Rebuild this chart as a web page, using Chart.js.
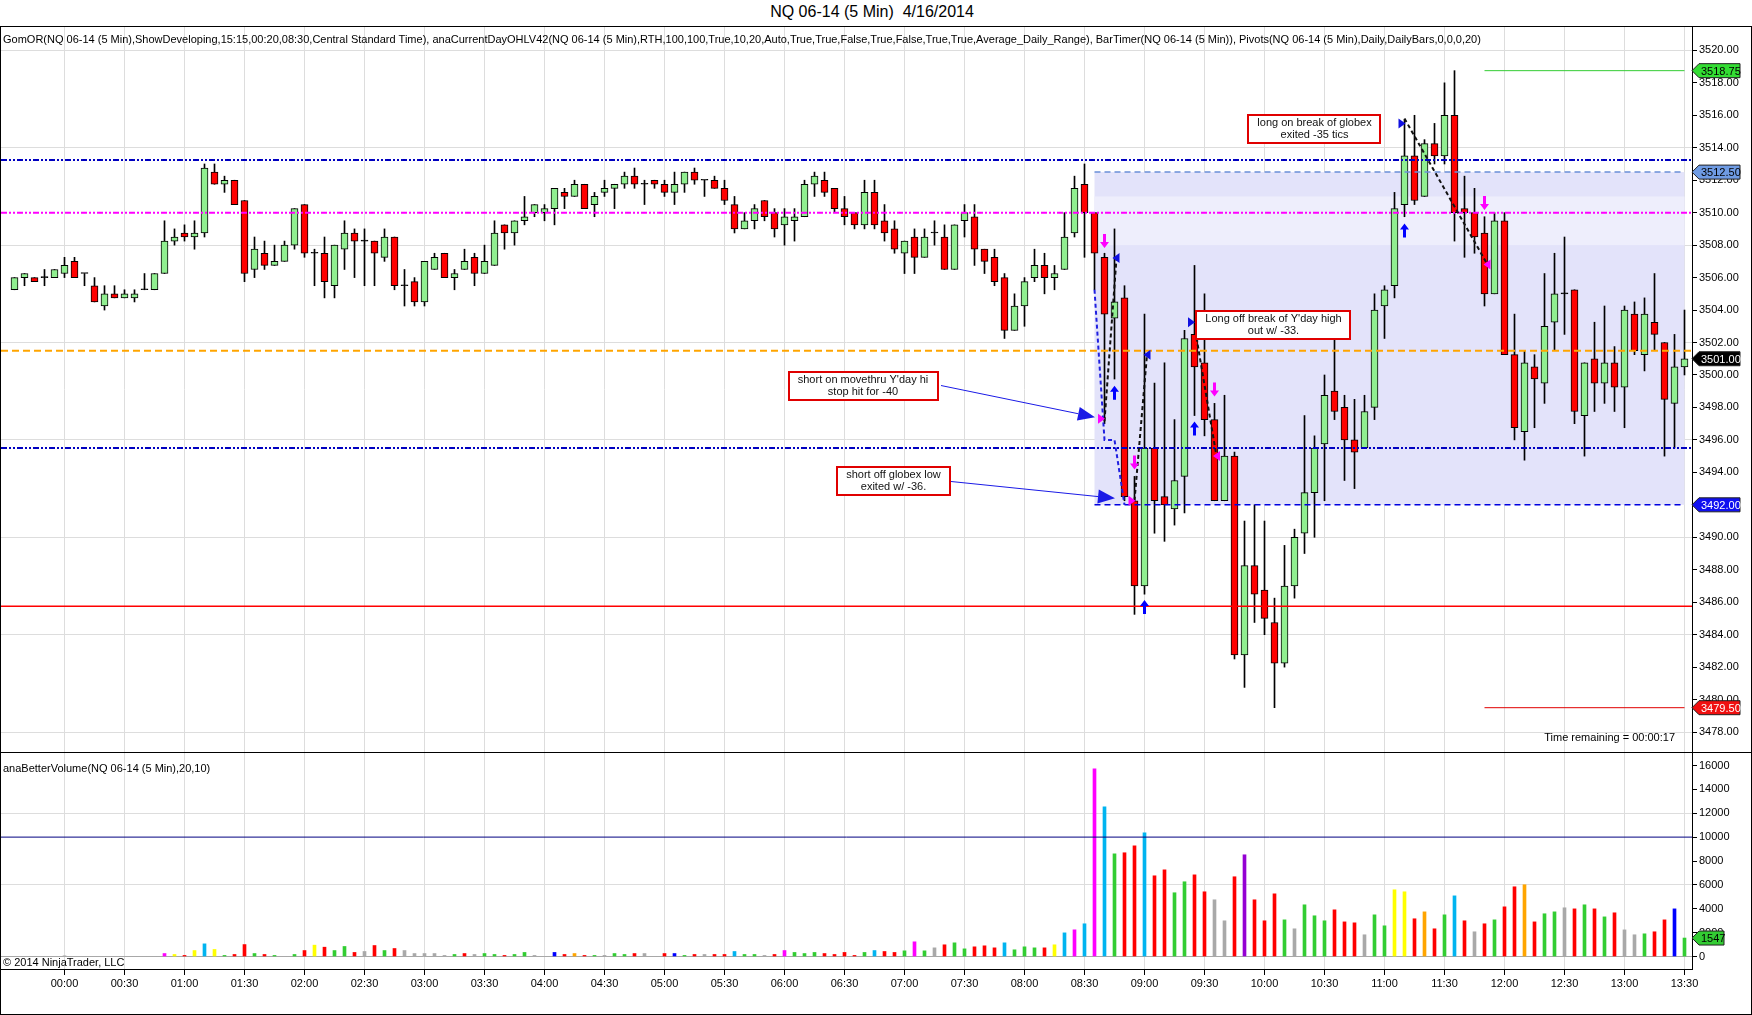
<!DOCTYPE html>
<html>
<head>
<meta charset="utf-8">
<title>NQ 06-14 (5 Min) 4/16/2014</title>
<script src="https://cdn.jsdelivr.net/npm/chart.js@4.4.1/dist/chart.umd.min.js"></script>
<style>
  body { margin: 0; background: #fff; }
  #page { position: relative; width: 1752px; height: 1015px; overflow: hidden; font-family: Arial, "Liberation Sans", sans-serif; }
  #title { position: absolute; top: 3px; left: 0; width: 1744px; text-align: center; font-size: 16px; white-space: pre; }
  #frame { position: absolute; left: 0; top: 26px; width: 1752px; height: 989px; border: 1px solid #000; box-sizing: border-box; }
  #sep { position: absolute; left: 0; top: 752px; width: 1752px; height: 1px; background: #000; }
  #price { position: absolute; left: 1px; top: 27px; }
  #volume { position: absolute; left: 1px; top: 753px; }
</style>
</head>
<body>
<div id="page">
  <div id="title">NQ 06-14 (5 Min)  4/16/2014</div>
  <div id="frame"></div>
  <canvas id="price" width="1750" height="725"></canvas>
  <div id="sep"></div>
  <canvas id="volume" width="1750" height="261"></canvas>
</div>
<script>
// 5 minute bars, first bar 23:35 (prev. day), last bar 13:30
const open = [
  3505.25, 3506.0, 3506.0, 3506.0, 3506.0,
  3506.25, 3507.0, 3506.25, 3505.5, 3504.25, 3505.0, 3504.75, 3504.75, 3505.25, 3505.25, 3506.25, 3508.25,
  3508.75, 3508.5, 3508.75, 3512.5, 3511.75, 3512.0, 3510.75, 3506.5, 3507.5, 3506.75, 3507.0, 3508.0,
  3510.5, 3507.5, 3507.5, 3505.5, 3507.75, 3508.75, 3508.25, 3508.25, 3507.25, 3508.5, 3505.5, 3505.75,
  3504.5, 3506.5, 3507.5, 3506.0, 3506.5, 3507.25, 3506.25, 3506.75, 3509.25, 3508.75, 3509.5, 3510.0,
  3510.0, 3510.25, 3511.25, 3511.0, 3511.75, 3510.5, 3511.25, 3511.5, 3511.75, 3512.25, 3511.75, 3512.0,
  3511.75, 3511.25, 3511.75, 3512.5, 3512.0, 3512.0, 3511.5, 3510.5, 3509.0, 3509.5, 3510.75, 3510.0,
  3509.25, 3509.5, 3509.75, 3511.75, 3512.0, 3511.5, 3510.25, 3510.0, 3509.25, 3511.25, 3509.5, 3509.0,
  3507.5, 3508.5, 3507.25, 3508.75, 3508.5, 3506.5, 3509.5, 3509.75, 3507.75, 3507.25, 3506.0, 3502.75,
  3504.25, 3506.0, 3506.75, 3506.0, 3506.5, 3508.75, 3511.75, 3510.0, 3507.25, 3503.5, 3504.75, 3492.25,
  3487.0, 3495.5, 3492.5, 3491.75, 3493.75, 3502.5, 3500.75, 3497.25, 3492.25, 3495.0, 3482.75, 3488.25,
  3486.75, 3484.75, 3482.25, 3487.0, 3490.25, 3492.75, 3495.75, 3499.0, 3498.0, 3496.0, 3495.5, 3498.0,
  3504.25, 3505.5, 3510.5, 3513.5, 3511.0, 3514.25, 3513.5, 3516.0, 3510.25, 3510.0, 3508.75, 3505.0,
  3509.5, 3501.25, 3496.5, 3500.5, 3499.5, 3503.25, 3505.0, 3505.25, 3497.5, 3501.0, 3499.5, 3500.75,
  3499.25, 3503.75, 3501.25, 3503.25, 3502.0, 3498.25, 3500.5
];
const high = [
  3506.0, 3506.25, 3506.0, 3506.5, 3506.5,
  3507.25, 3507.25, 3506.25, 3506.0, 3505.5, 3505.5, 3505.25, 3505.25, 3506.25, 3506.25, 3509.5, 3509.0,
  3509.25, 3509.5, 3513.0, 3513.0, 3512.25, 3512.0, 3510.75, 3508.5, 3508.25, 3508.0, 3508.25, 3510.25,
  3510.5, 3507.75, 3508.5, 3508.0, 3509.5, 3509.0, 3509.0, 3508.25, 3509.0, 3508.5, 3506.5, 3506.0,
  3507.0, 3507.5, 3507.5, 3506.5, 3507.75, 3507.5, 3508.0, 3509.5, 3509.25, 3509.5, 3511.0, 3510.5,
  3510.5, 3511.5, 3511.5, 3512.0, 3511.75, 3511.25, 3512.0, 3511.75, 3512.5, 3512.75, 3512.0, 3512.0,
  3512.0, 3512.5, 3512.5, 3512.75, 3512.0, 3512.25, 3512.0, 3511.0, 3510.0, 3510.5, 3510.75, 3510.25,
  3510.25, 3510.25, 3512.0, 3512.5, 3512.5, 3511.5, 3511.0, 3510.0, 3512.0, 3512.0, 3510.5, 3509.5,
  3508.25, 3509.0, 3509.0, 3509.5, 3509.25, 3509.25, 3510.5, 3510.5, 3507.75, 3507.75, 3506.25, 3505.0,
  3506.0, 3507.75, 3507.5, 3506.75, 3510.0, 3512.25, 3513.0, 3510.0, 3507.5, 3509.0, 3505.5, 3493.75,
  3503.75, 3499.5, 3500.75, 3497.25, 3502.75, 3506.75, 3505.0, 3498.25, 3498.75, 3495.25, 3491.0, 3492.0,
  3491.0, 3486.25, 3489.5, 3490.5, 3497.5, 3496.25, 3500.0, 3502.75, 3498.75, 3498.5, 3498.75, 3505.0,
  3505.5, 3511.25, 3515.75, 3516.0, 3514.5, 3515.5, 3518.0, 3518.75, 3512.25, 3511.5, 3509.75, 3510.0,
  3510.0, 3503.75, 3501.5, 3501.25, 3506.25, 3507.5, 3508.5, 3505.25, 3500.75, 3503.25, 3504.25, 3501.75,
  3504.25, 3504.5, 3504.75, 3506.25, 3502.0, 3502.5, 3504.0
];
const low = [
  3505.25, 3505.5, 3505.75, 3505.5, 3506.0,
  3506.0, 3506.0, 3505.5, 3504.5, 3504.0, 3504.75, 3504.75, 3504.5, 3505.25, 3505.25, 3506.25, 3508.0,
  3508.25, 3507.75, 3508.5, 3511.75, 3511.25, 3510.5, 3505.75, 3506.0, 3506.5, 3506.75, 3507.0, 3507.75,
  3507.25, 3505.5, 3504.75, 3504.75, 3506.5, 3506.0, 3505.5, 3505.5, 3507.0, 3505.25, 3504.25, 3504.25,
  3504.25, 3506.5, 3506.0, 3505.25, 3506.5, 3505.5, 3506.25, 3506.75, 3507.75, 3508.0, 3509.25, 3509.75,
  3509.5, 3509.25, 3510.25, 3511.0, 3510.25, 3509.75, 3511.0, 3510.25, 3511.5, 3511.5, 3510.5, 3511.5,
  3511.0, 3510.5, 3511.25, 3511.75, 3511.0, 3511.5, 3510.5, 3508.75, 3509.0, 3509.0, 3509.5, 3508.5,
  3508.0, 3508.25, 3509.75, 3511.0, 3511.0, 3510.0, 3509.25, 3509.0, 3509.0, 3509.0, 3508.25, 3507.5,
  3506.25, 3506.25, 3507.25, 3508.0, 3506.5, 3506.5, 3508.5, 3506.75, 3506.25, 3505.5, 3502.25, 3502.75,
  3503.0, 3505.75, 3505.0, 3505.25, 3506.5, 3508.5, 3507.25, 3505.25, 3497.0, 3499.75, 3492.25, 3485.25,
  3486.5, 3490.25, 3489.75, 3490.75, 3491.5, 3497.5, 3496.25, 3492.25, 3492.25, 3482.5, 3480.75, 3484.75,
  3484.0, 3479.5, 3482.0, 3486.25, 3489.0, 3490.0, 3492.25, 3497.25, 3493.5, 3493.0, 3495.5, 3497.25,
  3502.25, 3504.75, 3509.75, 3510.5, 3511.0, 3513.0, 3513.0, 3508.25, 3507.25, 3507.5, 3504.25, 3505.0,
  3501.25, 3496.0, 3494.75, 3496.75, 3498.25, 3501.5, 3502.5, 3497.0, 3495.0, 3497.75, 3498.25, 3497.75,
  3496.75, 3501.25, 3500.25, 3501.5, 3495.0, 3495.5, 3500.0
];
const close = [
  3506.0, 3506.25, 3505.75, 3506.0, 3506.5,
  3506.75, 3506.0, 3506.25, 3504.5, 3505.0, 3504.75, 3505.0, 3505.0, 3505.25, 3506.25, 3508.25, 3508.5,
  3508.5, 3508.75, 3512.75, 3511.75, 3512.0, 3510.5, 3506.25, 3507.75, 3506.75, 3507.0, 3508.0, 3510.25,
  3507.5, 3507.5, 3505.75, 3508.0, 3508.75, 3508.25, 3508.25, 3507.5, 3508.5, 3505.5, 3505.5, 3504.5,
  3507.0, 3507.25, 3506.0, 3506.25, 3507.0, 3506.25, 3507.0, 3508.75, 3508.75, 3509.5, 3509.75, 3510.5,
  3510.25, 3511.5, 3511.0, 3511.75, 3510.25, 3511.0, 3511.5, 3511.75, 3512.25, 3511.75, 3511.75, 3511.75,
  3511.25, 3511.75, 3512.5, 3512.0, 3512.0, 3511.5, 3510.75, 3509.0, 3509.5, 3510.25, 3509.75, 3509.0,
  3509.75, 3509.75, 3511.75, 3512.25, 3511.25, 3510.25, 3509.75, 3509.25, 3511.25, 3509.25, 3508.75, 3507.75,
  3508.25, 3507.25, 3508.5, 3508.75, 3506.5, 3509.25, 3510.0, 3507.75, 3507.0, 3505.75, 3502.75, 3504.25,
  3505.75, 3506.75, 3506.0, 3506.25, 3508.5, 3511.5, 3510.0, 3507.5, 3503.75, 3504.5, 3492.5, 3487.0,
  3495.5, 3492.25, 3492.0, 3493.5, 3502.25, 3500.5, 3497.25, 3492.25, 3495.0, 3482.75, 3488.25, 3486.5,
  3485.0, 3482.25, 3487.0, 3490.0, 3492.75, 3495.5, 3498.75, 3497.75, 3496.0, 3495.25, 3497.75, 3504.0,
  3505.25, 3510.25, 3513.5, 3510.75, 3514.25, 3513.5, 3516.0, 3510.0, 3510.0, 3508.5, 3505.0, 3509.5,
  3501.25, 3496.75, 3500.75, 3499.75, 3503.0, 3505.0, 3505.0, 3497.75, 3500.75, 3499.5, 3500.75, 3499.25,
  3504.0, 3501.5, 3503.75, 3502.5, 3498.5, 3500.5, 3501.0
];
const volume = [
  0, 0, 0, 0, 0,
  60, 0, 0, 0, 0, 0, 0, 0, 0, 0, 250, 170,
  90, 500, 1060, 590, 90, 170, 1000, 250, 170, 90, 0, 170,
  500, 950, 780, 500, 840, 340, 420, 920, 500, 670, 500, 250,
  250, 250, 90, 170, 250, 170, 250, 170, 90, 170, 340, 90,
  0, 340, 170, 250, 90, 90, 90, 250, 170, 250, 250, 0,
  250, 250, 90, 170, 170, 170, 170, 420, 170, 170, 90, 170,
  500, 340, 250, 340, 250, 170, 340, 90, 340, 500, 420, 340,
  475, 1230, 475, 725, 980, 1145, 640, 810, 895, 725, 1145, 560,
  810, 725, 725, 980, 1980, 2235, 2740, 15730, 12540, 8600, 8690, 9270,
  10360, 6760, 7260, 5340, 6260, 6840, 5420, 4750, 2990, 6680, 8520, 4750,
  2990, 5250, 3070, 2320, 4330, 3410, 2990, 3910, 2900, 2820, 1820, 3490,
  2570, 5590, 5420, 3160, 3740, 2320, 3490, 5080, 2990, 2070, 2740, 3070,
  4160, 5840, 6010, 2900, 3580, 3740, 4080, 3990, 4330, 3990, 3320, 3660,
  2230, 1820, 1900, 2070, 3070, 3990, 1547
];
// anaBetterVolume bar class per bar
const volKind = (
  'sssss' +
  'ssssssssssmy' + 'rycygrrgrgsg' + 'ryrggrsrgrss' + 'sssgrsggrggs' +
  'sbrorgsggrss' + 'rbgrsrrcggsr' + 'mgggrrrrgcrr' + 'gmgsrggrrrcg' +
  'ggrycmcmcgrr' + 'crrggrrssrpr' + 'rrgsgggrrrsg' + 'gyyrorgcrsrg' +
  'rrorggsrgrgr' + 'ssgrrbg'
).split('');

const xTickLabels = ['00:00','00:30','01:00','01:30','02:00','02:30','03:00','03:30','04:00','04:30',
  '05:00','05:30','06:00','06:30','07:00','07:30','08:00','08:30','09:00','09:30','10:00','10:30',
  '11:00','11:30','12:00','12:30','13:00','13:30'];
const xTickBars = xTickLabels.map((_, k) => 5 + 6 * k);   // bar index of each label
const priceTicks = [3478,3480,3482,3484,3486,3488,3490,3492,3494,3496,3498,3500,3502,3504,3506,3508,3510,3512,3514,3516,3518,3520];
const priceGrid = [3478, 3484, 3490, 3496, 3502, 3508, 3514, 3520];
const volTicks = [0,2000,4000,6000,8000,10000,12000,14000,16000];
const volGrid = [0, 6000, 12000];

// levels
const pivotLevels = [3513.25, 3510.0, 3501.5, 3495.5, 3485.75];
const orHigh = 3512.5, orLow = 3492.0;
const orBand = [3508.0, 3511.0];
const dayHigh = 3518.75, dayLow = 3479.5, lastPrice = 3501.0;
const volLevel = 10000;
const orStartBar = 108, hiLoStartBar = 147;

// notes and trade marks, [bar index, price]
const notes = [
  { lines: ['long on break of globex', 'exited -35 tics'], at: [130.0, 3515.15] },
  { lines: ["Long off break of Y'day high", 'out w/ -33.'], at: [125.9, 3503.1] },
  { lines: ["short on movethru Y'day hi", 'stop hit for -40'], at: [84.85, 3499.3] },
  { lines: ['short off globex low', 'exited w/ -36.'], at: [87.9, 3493.45] }
];
const noteArrows = [
  { from: [92.65, 3499.35], to: [108.05, 3497.4] },
  { from: [93.45, 3493.45], to: [110.05, 3492.4] }
];
const stopPath = [[108, 3505.25], [109, 3496.0], [110, 3496.0], [111, 3492.0]];
const tradeLines = [
  [[109, 3497.15], [110.2, 3507.2]],
  [[112, 3492.25], [113.25, 3501.25]],
  [[118.2, 3502.3], [120.2, 3495.0]],
  [[139, 3515.8], [147.3, 3506.8]]
];
const fillMarks = [
  [110.2, 3507.2, 'left', 'b'], [113.3, 3501.25, 'left', 'b'],
  [117.65, 3503.25, 'right', 'b'], [138.7, 3515.5, 'right', 'b'],
  [108.65, 3497.3, 'right', 'm'], [111.7, 3492.25, 'right', 'm'],
  [120.25, 3495.0, 'left', 'm'], [147.3, 3506.8, 'left', 'm']
];
const shortSignals = [[109, 3508.25], [112, 3494.6], [120, 3499.1], [147, 3510.6]];
const longSignals = [[110, 3498.9], [113, 3485.7], [118, 3496.7], [139, 3508.9]];

const FONT = 'Arial, "Liberation Sans", sans-serif';
Chart.defaults.font.family = FONT;
Chart.defaults.font.size = 11;
Chart.defaults.color = '#000';

const xMin = -1.35, xMax = 167.75;
const lastBar = open.length - 1;
const bars = open.map((_, i) => i);

const kindColor = { g: '#32CD32', r: '#FF0000', c: '#00B4F0', m: '#FF00FF', y: '#FFFF00',
  s: '#A9A9A9', o: '#FFA500', p: '#9400D3', b: '#0000FF' };

function hLine(value, color, dash, width, from, to) {
  return {
    type: 'line',
    data: [{ x: from, y: value }, { x: to, y: value }],
    borderColor: color, borderDash: dash, borderWidth: width,
    pointRadius: 0, fill: false
  };
}

// keep the plot area right up to the canvas edges
function noPad(s) {
  s.paddingTop = 0;
  s.paddingBottom = 0;
}

function flag(ctx, xTip, y, w, text, bg, fg) {
  ctx.save();
  ctx.beginPath();
  ctx.moveTo(xTip, y);
  ctx.lineTo(xTip + 7, y - 7);
  ctx.lineTo(xTip + w, y - 7);
  ctx.lineTo(xTip + w, y + 7);
  ctx.lineTo(xTip + 7, y + 7);
  ctx.closePath();
  ctx.fillStyle = bg;
  ctx.fill();
  ctx.strokeStyle = '#222';
  ctx.lineWidth = 1;
  ctx.stroke();
  ctx.fillStyle = fg;
  ctx.font = '11px ' + FONT;
  ctx.textAlign = 'left';
  ctx.textBaseline = 'middle';
  ctx.fillText(text, xTip + 9, y + 1);
  ctx.restore();
}

const priceOverlay = {
  id: 'priceOverlay',
  beforeDatasetsDraw(chart) {
    const { ctx, scales: { x, y } } = chart;
    const x0 = x.getPixelForValue(orStartBar), x1 = x.getPixelForValue(lastBar);
    ctx.save();
    ctx.fillStyle = '#E3E3FA';
    ctx.fillRect(x0, y.getPixelForValue(orHigh), x1 - x0, y.getPixelForValue(orLow) - y.getPixelForValue(orHigh));
    ctx.fillStyle = '#EEEEFC';
    ctx.fillRect(x0, y.getPixelForValue(orBand[1]), x1 - x0, y.getPixelForValue(orBand[0]) - y.getPixelForValue(orBand[1]));
    ctx.restore();
  },
  afterDatasetsDraw(chart) {
    const { ctx, scales: { x, y } } = chart;
    const P = (pt) => [x.getPixelForValue(pt[0]), y.getPixelForValue(pt[1])];
    ctx.save();

    // stop path and trade lines
    ctx.setLineDash([4, 3]);
    ctx.lineWidth = 2;
    ctx.strokeStyle = '#2020E0';
    ctx.beginPath();
    stopPath.forEach((pt, k) => { const [a, b] = P(pt); k ? ctx.lineTo(a, b) : ctx.moveTo(a, b); });
    ctx.stroke();
    ctx.strokeStyle = '#111';
    tradeLines.forEach(seg => {
      const [a, b] = P(seg[0]), [c, d] = P(seg[1]);
      ctx.beginPath(); ctx.moveTo(a, b); ctx.lineTo(c, d); ctx.stroke();
    });
    ctx.setLineDash([]);

    // execution triangles
    fillMarks.forEach(m => {
      const [a, b] = P(m);
      const s = m[2] === 'left' ? -1 : 1;
      ctx.fillStyle = m[3] === 'b' ? '#1010E0' : '#FF00FF';
      ctx.beginPath();
      ctx.moveTo(a + 4 * s, b);
      ctx.lineTo(a - 3 * s, b - 5);
      ctx.lineTo(a - 3 * s, b + 5);
      ctx.closePath();
      ctx.fill();
    });

    // signal arrows
    const arrow = (pt, dir, color) => {
      const [a, b] = P(pt);
      const d = dir;   // -1 up, +1 down
      ctx.fillStyle = color;
      ctx.beginPath();
      ctx.moveTo(a, b + 7 * d);
      ctx.lineTo(a + 4.5, b + 1 * d);
      ctx.lineTo(a + 1.5, b + 1 * d);
      ctx.lineTo(a + 1.5, b - 7 * d);
      ctx.lineTo(a - 1.5, b - 7 * d);
      ctx.lineTo(a - 1.5, b + 1 * d);
      ctx.lineTo(a - 4.5, b + 1 * d);
      ctx.closePath();
      ctx.fill();
    };
    shortSignals.forEach(pt => arrow(pt, 1, '#FF00FF'));
    longSignals.forEach(pt => arrow(pt, -1, '#0000FF'));

    // note arrows
    ctx.strokeStyle = '#1A1AE6';
    ctx.fillStyle = '#1A1AE6';
    ctx.lineWidth = 1;
    noteArrows.forEach(ar => {
      const [a, b] = P(ar.from), [c, d] = P(ar.to);
      const ang = Math.atan2(d - b, c - a);
      const len = 17, hw = 7;
      const bx = c - len * Math.cos(ang), by = d - len * Math.sin(ang);
      ctx.beginPath(); ctx.moveTo(a, b); ctx.lineTo(bx, by); ctx.stroke();
      ctx.beginPath();
      ctx.moveTo(c, d);
      ctx.lineTo(bx - hw * Math.sin(ang), by + hw * Math.cos(ang));
      ctx.lineTo(bx + hw * Math.sin(ang), by - hw * Math.cos(ang));
      ctx.closePath();
      ctx.fill();
    });

    // note boxes
    ctx.font = '11px ' + FONT;
    ctx.textAlign = 'center';
    ctx.textBaseline = 'middle';
    notes.forEach(n => {
      const [cx, cy] = P(n.at);
      const w = Math.max(...n.lines.map(t => ctx.measureText(t).width)) + 18;
      const h = 28;
      ctx.fillStyle = '#fff';
      ctx.fillRect(cx - w / 2, cy - h / 2, w, h);
      ctx.strokeStyle = '#E00000';
      ctx.lineWidth = 2;
      ctx.strokeRect(Math.round(cx - w / 2), Math.round(cy - h / 2), Math.round(w), h);
      ctx.fillStyle = '#111';
      ctx.fillText(n.lines[0], cx, cy - 6);
      ctx.fillText(n.lines[1], cx, cy + 6);
    });
    ctx.restore();
  },
  afterDraw(chart) {
    const { ctx, chartArea, scales: { y } } = chart;
    ctx.save();
    ctx.font = '11px ' + FONT;
    ctx.fillStyle = '#000';
    ctx.textAlign = 'left';
    ctx.textBaseline = 'middle';
    ctx.fillText('GomOR(NQ 06-14 (5 Min),ShowDeveloping,15:15,00:20,08:30,Central Standard Time), anaCurrentDayOHLV42(NQ 06-14 (5 Min),RTH,100,100,True,10,20,Auto,True,True,False,True,False,True,True,Average_Daily_Range), BarTimer(NQ 06-14 (5 Min)), Pivots(NQ 06-14 (5 Min),Daily,DailyBars,0,0,0,20)', 2, 13, 1484);
    ctx.textAlign = 'right';
    ctx.fillText('Time remaining = 00:00:17', 1674, 711);
    ctx.restore();
    const xr = chartArea.right;
    flag(ctx, xr, y.getPixelForValue(dayHigh), 48, dayHigh.toFixed(2), '#33DD33', '#000');
    flag(ctx, xr, y.getPixelForValue(orHigh), 48, orHigh.toFixed(2), '#6F9BE3', '#000');
    flag(ctx, xr, y.getPixelForValue(lastPrice), 48, lastPrice.toFixed(2), '#000', '#fff');
    flag(ctx, xr, y.getPixelForValue(orLow), 48, orLow.toFixed(2), '#1010F0', '#fff');
    flag(ctx, xr, y.getPixelForValue(dayLow), 48, dayLow.toFixed(2), '#F01010', '#fff');
  }
};

const pivotColors = ['#0000C0', '#FF00FF', '#FFA500', '#0000C0', '#FF0000'];
const pivotDash = [[6, 2, 2, 2, 2, 2], [6, 2, 2, 2, 2, 2], [7, 4], [6, 2, 2, 2, 2, 2], []];
const pivotWidth = [2, 2, 2, 2, 1.5];

const priceChart = new Chart(document.getElementById('price'), {
  type: 'bar',
  data: {
    datasets: [
      hLine(dayHigh, '#33CC33', [], 1, hiLoStartBar, lastBar),
      hLine(dayLow, '#E00000', [], 1, hiLoStartBar, lastBar),
      hLine(orHigh, '#6A8FD8', [6, 4], 1.5, orStartBar, lastBar),
      hLine(orLow, '#0000E0', [6, 4], 1.5, orStartBar, lastBar),
      ...pivotLevels.map((v, k) => hLine(v, pivotColors[k], pivotDash[k], pivotWidth[k], xMin, xMax)),
      {
        data: bars.map(i => ({ x: i, y: [open[i], close[i]] })),
        backgroundColor: bars.map(i => close[i] > open[i] ? '#90EE90' : close[i] < open[i] ? '#FF0000' : '#000'),
        borderColor: '#000', borderWidth: 1, borderSkipped: false,
        barThickness: 7, minBarLength: 1, grouped: false
      },
      {
        data: bars.map(i => ({ x: i, y: [low[i], high[i]] })),
        backgroundColor: '#000', borderWidth: 0,
        barThickness: 1, grouped: false
      }
    ]
  },
  options: {
    responsive: false, animation: false, devicePixelRatio: 1, events: [],
    layout: { padding: 0 },
    plugins: { legend: { display: false }, tooltip: { enabled: false } },
    scales: {
      x: {
        type: 'linear', min: xMin, max: xMax, offset: false,
        afterBuildTicks: s => { s.ticks = xTickBars.map(v => ({ value: v })); },
        afterFit: s => { s.height = 0; s.paddingLeft = 0; s.paddingRight = 0; },
        ticks: { display: false },
        grid: { color: '#DDDDDD', drawTicks: false, offset: false },
        border: { display: false }
      },
      y: {
        position: 'right', min: 3476.77, max: 3521.44,
        afterBuildTicks: s => { s.ticks = priceTicks.map(v => ({ value: v })); },
        afterFit: s => { s.width = 59; noPad(s); },
        ticks: { callback: v => v.toFixed(2), padding: 2, color: '#000' },
        grid: {
          color: c => (c.tick && priceGrid.includes(c.tick.value)) ? '#DDDDDD' : 'rgba(0,0,0,0)',
          tickColor: '#000', tickLength: 5
        },
        border: { color: '#000' }
      }
    }
  },
  plugins: [priceOverlay]
});

const volumeOverlay = {
  id: 'volumeOverlay',
  afterDraw(chart) {
    const { ctx, chartArea, scales: { y } } = chart;
    ctx.save();
    ctx.font = '11px ' + FONT;
    ctx.fillStyle = '#000';
    ctx.textAlign = 'left';
    ctx.textBaseline = 'middle';
    ctx.fillText('anaBetterVolume(NQ 06-14 (5 Min),20,10)', 2, 16);
    ctx.fillText('\u00A9 2014 NinjaTrader, LLC', 2, 210);
    ctx.restore();
    const v = volume[lastBar];
    flag(ctx, chartArea.right, y.getPixelForValue(v), 32, String(v), '#33CC33', '#000');
  }
};

const volumeChart = new Chart(document.getElementById('volume'), {
  type: 'bar',
  data: {
    datasets: [
      hLine(volLevel, '#000080', [], 1, xMin, xMax),
      {
        data: bars.map(i => ({ x: i, y: volume[i] })),
        backgroundColor: bars.map(i => kindColor[volKind[i]]),
        borderWidth: 0, barThickness: 3, grouped: false
      }
    ]
  },
  options: {
    responsive: false, animation: false, devicePixelRatio: 1, events: [],
    layout: { padding: 0 },
    plugins: { legend: { display: false }, tooltip: { enabled: false } },
    scales: {
      x: {
        type: 'linear', min: xMin, max: xMax, offset: false,
        afterBuildTicks: s => { s.ticks = xTickBars.map(v => ({ value: v })); },
        afterFit: s => { s.height = 45; s.paddingLeft = 0; s.paddingRight = 0; },
        ticks: { callback: (v, k) => xTickLabels[k], autoSkip: false, maxRotation: 0, padding: 2, color: '#000' },
        grid: { color: '#DDDDDD', tickColor: '#000', tickLength: 6, offset: false },
        border: { color: '#000' }
      },
      y: {
        position: 'right', min: -1047, max: 17047,
        afterBuildTicks: s => { s.ticks = volTicks.map(v => ({ value: v })); },
        afterFit: s => { s.width = 59; noPad(s); },
        ticks: { padding: 2, color: '#000', callback: v => String(v) },
        grid: {
          color: c => (c.tick && volGrid.includes(c.tick.value)) ? (c.tick.value === 0 ? '#A8A8A8' : '#DDDDDD') : 'rgba(0,0,0,0)',
          tickColor: '#000', tickLength: 5
        },
        border: { color: '#000' }
      }
    }
  },
  plugins: [volumeOverlay]
});
</script>
</body>
</html>
